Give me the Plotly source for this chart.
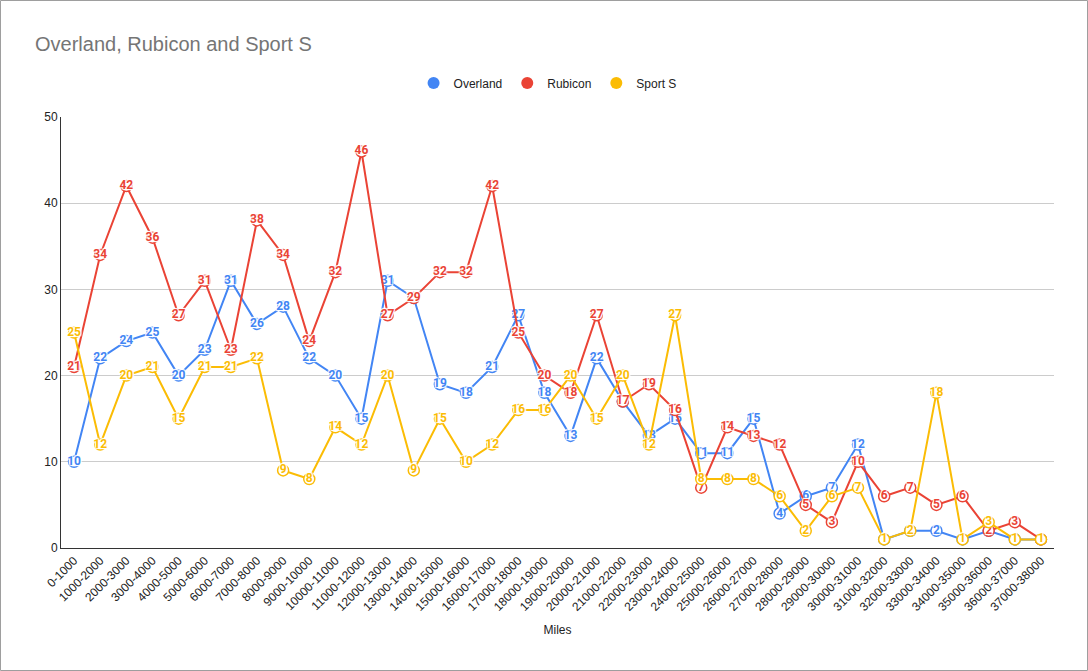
import plotly.graph_objects as go

categories = ["0-1000", "1000-2000", "2000-3000", "3000-4000", "4000-5000", "5000-6000",
              "6000-7000", "7000-8000", "8000-9000", "9000-10000", "10000-11000", "11000-12000",
              "12000-13000", "13000-14000", "14000-15000", "15000-16000", "16000-17000",
              "17000-18000", "18000-19000", "19000-20000", "20000-21000", "21000-22000",
              "22000-23000", "23000-24000", "24000-25000", "25000-26000", "26000-27000",
              "27000-28000", "28000-29000", "29000-30000", "30000-31000", "31000-32000",
              "32000-33000", "33000-34000", "34000-35000", "35000-36000", "36000-37000",
              "37000-38000"]

overland = [10, 22, 24, 25, 20, 23, 31, 26, 28, 22, 20, 15, 31, 29, 19, 18, 21, 27, 18, 13,
            22, 17, 13, 15, 11, 11, 15, 4, 6, 7, 12, 1, 2, 2, 1, 2, 1, 1]
rubicon = [21, 34, 42, 36, 27, 31, 23, 38, 34, 24, 32, 46, 27, 29, 32, 32, 42, 25, 20, 18,
           27, 17, 19, 16, 7, 14, 13, 12, 5, 3, 10, 6, 7, 5, 6, 2, 3, 1]
sport_s = [25, 12, 20, 21, 15, 21, 21, 22, 9, 8, 14, 12, 20, 9, 15, 10, 12, 16, 16, 20,
           15, 20, 12, 27, 8, 8, 8, 6, 2, 6, 7, 1, 2, 18, 1, 3, 1, 1]

series = [("Overland", overland, "#4285F4"),
          ("Rubicon", rubicon, "#EA4335"),
          ("Sport S", sport_s, "#FBBC04")]

fig = go.Figure()
for name, vals, col in series:
    fig.add_trace(go.Scatter(
        x=categories, y=vals, mode="lines+markers+text", name=name,
        line=dict(color=col, width=2),
        marker=dict(size=11, color="white", line=dict(color=col, width=1.5)),
        text=[str(v) for v in vals], textposition="middle center",
        textfont=dict(family="Roboto", size=12, color=col, weight="bold",
                      shadow="1px 1px 1px white, -1px -1px 1px white, 1px -1px 1px white, -1px 1px 1px white"),
        showlegend=False, cliponaxis=False))
for name, vals, col in series:
    fig.add_trace(go.Scatter(x=[None], y=[None], mode="markers", name=name,
                             marker=dict(size=12, color=col)))

W, H = 1088, 671
L, R, T, B = 61, 34, 117, 123
pw, ph = W - L - R, H - T - B

fig.update_layout(
    width=W, height=H,
    margin=dict(l=L, r=R, t=T, b=B),
    paper_bgcolor="white", plot_bgcolor="white",
    font=dict(family="Liberation Sans, Arial", size=12, color="#222222"),
    title=dict(text="Overland, Rubicon and Sport S", x=35 / W, xanchor="left",
               xref="container", y=1 - 44 / H, yanchor="middle", yref="container",
               font=dict(family="Liberation Sans, Arial", size=20, color="#757575")),
    legend=dict(orientation="h", x=0.49, xanchor="center", y=1 + (117 - 83) / ph,
                yanchor="middle", font=dict(size=12, color="#222222"),
                itemwidth=30, tracegroupgap=0),
    xaxis=dict(type="category", range=[-0.5, len(categories) - 0.5], tickangle=-45,
               showgrid=False, showline=True, linecolor="#333333", linewidth=1,
               ticks="", tickfont=dict(size=12, color="#222222"),
               title=dict(text="Miles", font=dict(size=12, color="#222222"), standoff=12)),
    yaxis=dict(range=[0, 50], dtick=10, showgrid=True, gridcolor="#cccccc",
               showline=True, linecolor="#333333", linewidth=1, zeroline=False,
               ticks="", tickfont=dict(size=12, color="#222222")),
    shapes=[dict(type="rect", xref="paper", yref="paper",
                 x0=(0.5 - L) / pw, x1=(W - 0.5 - L) / pw,
                 y0=-(H - 0.5 - T - ph) / ph, y1=1 + (T - 0.5) / ph,
                 line=dict(color="#9e9e9e", width=1), layer="below")],
)

fig.write_html("out.html")
